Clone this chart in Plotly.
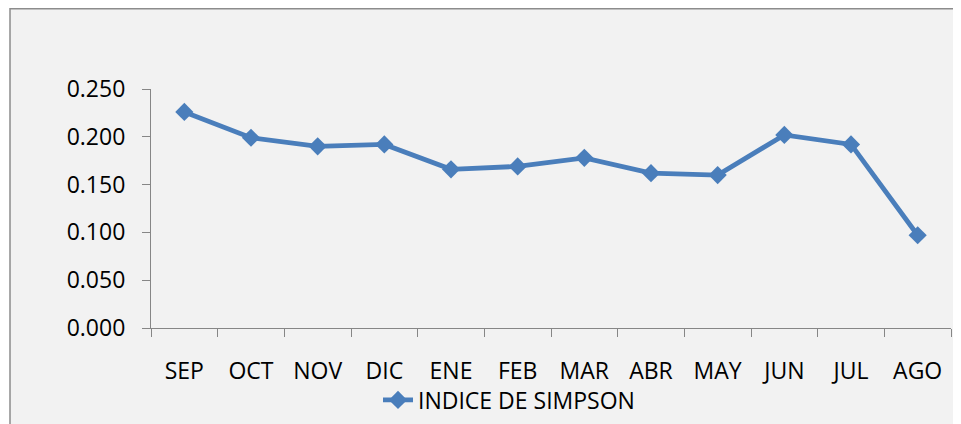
import plotly.graph_objects as go

months = ["SEP", "OCT", "NOV", "DIC", "ENE", "FEB", "MAR", "ABR", "MAY", "JUN", "JUL", "AGO"]
simpson = [0.226, 0.199, 0.190, 0.192, 0.166, 0.169, 0.178, 0.162, 0.160, 0.202, 0.192, 0.097]
series_name = "INDICE DE SIMPSON"
y_ticks = [0.0, 0.05, 0.10, 0.15, 0.20, 0.25]

# page has an 8px body margin; figure coordinates are page coordinates minus OFF
OFF = 8
W, H = 961 - 2 * OFF, 424 - OFF
L, T = 151 - OFF, 89 - OFF
R = W - (951 - OFF)
B = H - (328 - OFF)
pw, ph = W - L - R, H - T - B

def px(x):
    return (x - OFF - L) / pw

def py(y):
    return (H - B - (y - OFF)) / ph

BLUE = "#4A7EBB"
AX = "#868686"
FONT = dict(family="Open Sans", size=23, color="#000000")

fig = go.Figure()
fig.add_trace(go.Scatter(
    x=months, y=simpson, name=series_name, mode="lines+markers",
    line=dict(color=BLUE, width=4.8),
    marker=dict(symbol="diamond", size=14, color=BLUE),
))

fig.add_shape(type="rect", xref="paper", yref="paper",
              x0=px(10), x1=px(975), y0=py(440), y1=py(8.7),
              fillcolor="#F2F2F2", line=dict(color="#8C8C8C", width=1.5), layer="below")

fig.update_layout(
    template="none",
    width=W, height=H,
    margin=dict(l=L, r=R, t=T, b=B, pad=0, autoexpand=False),
    paper_bgcolor="white", plot_bgcolor="rgba(0,0,0,0)",
    font=FONT,
    showlegend=True,
    legend=dict(orientation="h", x=px(378), xanchor="left", y=py(400), yanchor="middle",
                bgcolor="rgba(0,0,0,0)", font=FONT),
    xaxis=dict(type="category", showline=True, linecolor=AX, linewidth=1.2,
               ticks="outside", ticklen=8, tickcolor=AX, tickwidth=1.2,
               tickson="boundaries", showgrid=False, zeroline=False, automargin=False,
               ticklabelstandoff=22, range=[-0.5, 11.5]),
    yaxis=dict(range=[0, 0.25], tickvals=y_ticks, tickformat=".3f",
               showline=True, linecolor=AX, linewidth=1.2,
               ticks="outside", ticklen=8, tickcolor=AX, tickwidth=1.2,
               showgrid=False, zeroline=False, automargin=False, ticklabelstandoff=12),
)

fig.write_html("out.html")
